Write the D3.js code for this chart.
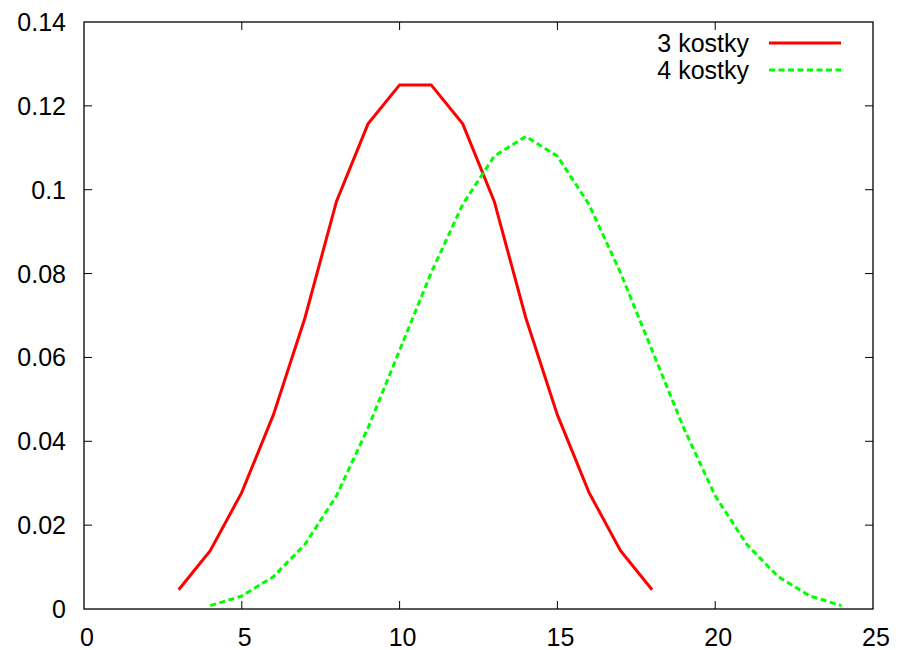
<!DOCTYPE html>
<html>
<head>
<meta charset="utf-8">
<script src="https://cdn.jsdelivr.net/npm/d3@7"></script>
<style>
  html, body { margin: 0; padding: 0; background: #fff; }
  svg { display: block; }
  text { font-family: "Liberation Sans", Arial, Helvetica, sans-serif; font-size: 25px; fill: #000; }
</style>
</head>
<body>
<svg id="chart" width="898" height="650"></svg>
<script>
// Sum of dice throws: probability of each total
const sums3 = [3, 4, 5, 6, 7, 8, 9, 10, 11, 12, 13, 14, 15, 16, 17, 18];
const prob3 = [0.0046, 0.0139, 0.0278, 0.0463, 0.0694, 0.0972, 0.1157, 0.1250,
               0.1250, 0.1157, 0.0972, 0.0694, 0.0463, 0.0278, 0.0139, 0.0046];
const sums4 = [4, 5, 6, 7, 8, 9, 10, 11, 12, 13, 14, 15, 16, 17, 18, 19, 20, 21, 22, 23, 24];
const prob4 = [0.0008, 0.0031, 0.0077, 0.0154, 0.0270, 0.0432, 0.0617, 0.0802, 0.0965,
               0.1080, 0.1127, 0.1080, 0.0965, 0.0802, 0.0617, 0.0432, 0.0270, 0.0154,
               0.0077, 0.0031, 0.0008];
const xTicks = [0, 5, 10, 15, 20, 25];
const yTicks = [0, 0.02, 0.04, 0.06, 0.08, 0.1, 0.12, 0.14];
const seriesNames = ["3 kostky", "4 kostky"];

const svg = d3.select("#chart");
const plotL = 84, plotR = 873, plotT = 22, plotB = 609;

const x = d3.scaleLinear().domain([0, 25]).range([plotL, plotR]);
const y = d3.scaleLinear().domain([0, 0.14]).range([plotB, plotT]);

const tickLen = 8;
const g = svg.append("g");

// Ticks on all four sides, pointing inward
xTicks.forEach(t => {
  if (t === 0 || t === 25) return;
  g.append("line").attr("x1", x(t)).attr("x2", x(t)).attr("y1", plotB).attr("y2", plotB - tickLen)
    .attr("stroke", "#000").attr("stroke-width", 1);
  g.append("line").attr("x1", x(t)).attr("x2", x(t)).attr("y1", plotT).attr("y2", plotT + tickLen)
    .attr("stroke", "#000").attr("stroke-width", 1);
});
yTicks.forEach(t => {
  if (t === 0 || t === 0.14) return;
  g.append("line").attr("x1", plotL).attr("x2", plotL + tickLen).attr("y1", y(t)).attr("y2", y(t))
    .attr("stroke", "#000").attr("stroke-width", 1);
  g.append("line").attr("x1", plotR).attr("x2", plotR - tickLen).attr("y1", y(t)).attr("y2", y(t))
    .attr("stroke", "#000").attr("stroke-width", 1);
});

// Tick labels
g.selectAll(".xl").data(xTicks).enter().append("text")
  .attr("x", d => x(d) + 3).attr("y", 646).attr("text-anchor", "middle").text(d => d);
g.selectAll(".yl").data(yTicks).enter().append("text")
  .attr("x", 66).attr("y", d => y(d) + 9).attr("text-anchor", "end").text(d => d3.format("")(d));

// Frame
g.append("rect").attr("x", plotL).attr("y", plotT).attr("width", plotR - plotL).attr("height", plotB - plotT)
  .attr("fill", "none").attr("stroke", "#000").attr("stroke-width", 1.3);

const line = d3.line().x(d => x(d[0])).y(d => y(d[1]));

g.append("path").datum(sums3.map((s, i) => [s, prob3[i]])).attr("d", line)
  .attr("fill", "none").attr("stroke", "#ff0000").attr("stroke-width", 3).attr("stroke-linejoin", "miter");
g.append("path").datum(sums4.map((s, i) => [s, prob4[i]])).attr("d", line)
  .attr("fill", "none").attr("stroke", "#00ff00").attr("stroke-width", 3).attr("stroke-dasharray", "6,3.5");

// Legend
const legend = [
  { name: seriesNames[0], color: "#ff0000", dash: null, ly: 43 },
  { name: seriesNames[1], color: "#00ff00", dash: "6,3.5", ly: 70 }
];
legend.forEach(l => {
  g.append("text").attr("x", 749).attr("y", l.ly + 9).attr("text-anchor", "end").text(l.name);
  g.append("line").attr("x1", 769).attr("x2", 841).attr("y1", l.ly).attr("y2", l.ly)
    .attr("stroke", l.color).attr("stroke-width", 3).attr("stroke-dasharray", l.dash);
});
</script>
</body>
</html>
